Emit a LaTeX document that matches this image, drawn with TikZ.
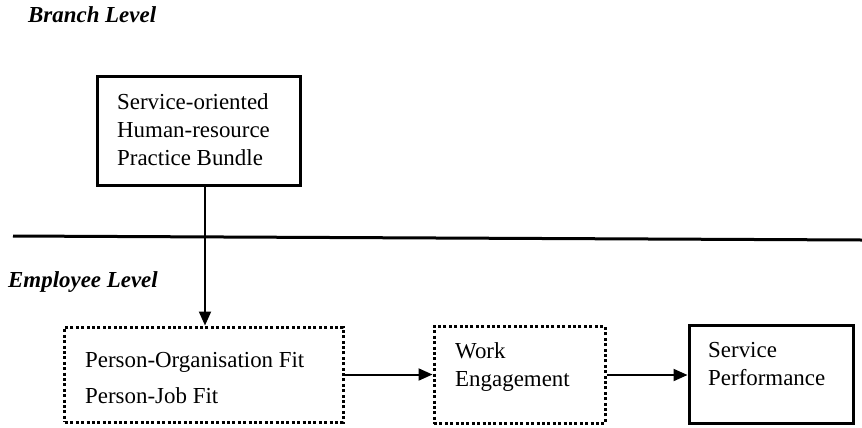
\documentclass[tikz,border=0pt]{standalone}
\usepackage{fontspec}
\setmainfont{Liberation Serif}
\usetikzlibrary{arrows.meta}
\begin{document}
\begin{tikzpicture}[x=1bp,y=-1bp,
  lbl/.style={anchor=base west,inner sep=0pt,font=\fontsize{23}{27}\selectfont},
  lvl/.style={lbl,font=\fontsize{23}{27}\selectfont\bfseries\itshape},
  solidbox/.style={draw,line width=3bp,minimum width=#1,inner sep=0pt},
  dotbox/.style={draw,line width=3bp,dash pattern=on 3bp off 2.4bp,inner sep=0pt},
  conn/.style={line width=2bp,-{Triangle[length=14bp,width=12bp]}}]
\useasboundingbox (0,0) rectangle (862,427);
% levels
\node[lvl] (branch) at (28,22) {Branch Level};
\node[lvl] (employee) at (8,287) {Employee Level};
\coordinate (divl) at (13,236);
\coordinate (divr) at (862,240);
\draw[line width=3bp] (divl) -- (divr);
% boxes
\node[solidbox=203bp,minimum height=109bp] (hr) at (198.5,130.5) {};
\node[dotbox,minimum width=278bp,minimum height=95bp] (po) at (204,374.5) {};
\node[dotbox,minimum width=171bp,minimum height=97bp] (we) at (519.5,375) {};
\node[solidbox=164bp,minimum height=98bp] (sp) at (771,374) {};
% texts
\node[lbl] (t1) at (117,109) {Service-oriented};
\node[lbl] (t2) at (117,137) {Human-resource};
\node[lbl] (t3) at (117,165) {Practice Bundle};
\node[lbl] (t4) at (85,367) {Person-Organisation Fit};
\node[lbl] (t5) at (85,403) {Person-Job Fit};
\node[lbl] (t6) at (455,358) {Work};
\node[lbl] (t7) at (455,386) {Engagement};
\node[lbl] (t8) at (708,357) {Service};
\node[lbl] (t9) at (708,385) {Performance};
% connectors
\coordinate (a1) at (205,185);
\draw[conn] (hr.south -| a1) -- (a1 |- po.north);
\draw[conn] (po.east) -- (po.east -| we.west);
\draw[conn] (we.east) -- (we.east -| sp.west);
\end{tikzpicture}
\end{document}
